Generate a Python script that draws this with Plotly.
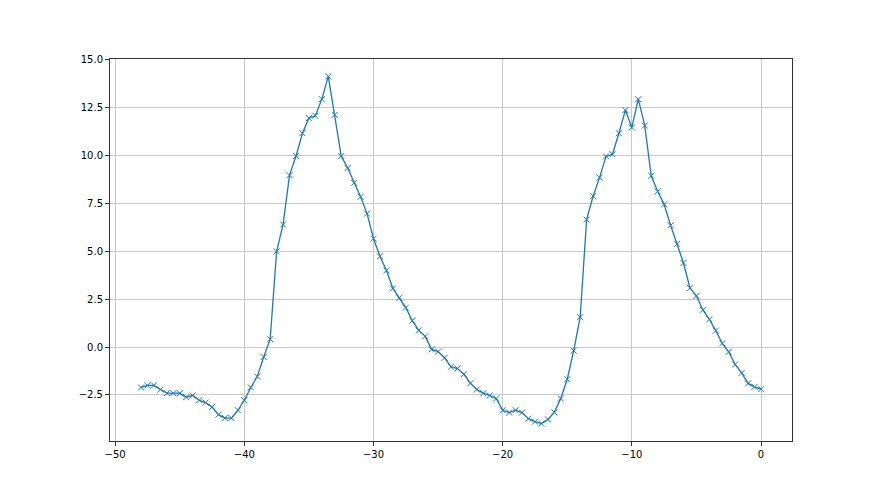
import numpy as np
import plotly.graph_objects as go

x_vals = [-48 + 0.5 * i for i in range(97)]
y_vals = [
    -2.11, -2.0, -2.0, -2.22, -2.41, -2.41, -2.41, -2.62, -2.53, -2.78,
    -2.9, -3.13, -3.53, -3.71, -3.71, -3.3, -2.78, -2.11, -1.54, -0.52,
    0.41,
    5.0, 6.40, 8.98, 9.98, 11.17, 11.96, 12.08, 12.95, 14.14, 12.13,
    9.98, 9.35, 8.58, 7.85, 6.97, 5.66, 4.74, 4.0,
    3.06, 2.57, 2.06, 1.38, 0.87, 0.56, -0.12, -0.24, -0.56, -1.03,
    -1.12, -1.42, -1.89, -2.22, -2.41, -2.53, -2.69, -3.30, -3.42, -3.30,
    -3.42, -3.74, -3.90, -4.0, -3.78, -3.41, -2.69, -1.68, -0.19, 1.56,
    6.66, 7.88, 8.85, 9.96, 10.07, 11.17, 12.38, 11.47, 12.95, 11.57,
    8.95, 8.13, 7.46, 6.36, 5.39, 4.39, 3.09, 2.67, 1.94, 1.45,
    0.86, 0.19, -0.25, -0.91, -1.35, -1.90, -2.08, -2.2,
]
x_ticks = [-50, -40, -30, -20, -10, 0]
y_ticks = [-2.5, 0.0, 2.5, 5.0, 7.5, 10.0, 12.5, 15.0]

fig = go.Figure()
fig.add_trace(go.Scatter(
    x=x_vals, y=y_vals, mode="lines+markers",
    line=dict(color="#1f77b4", width=1.3),
    marker=dict(symbol="x-thin", size=6, color="#1f77b4",
                line=dict(color="#1f77b4", width=1)),
    showlegend=False,
))

axis_common = dict(
    showline=True, linecolor="#333333", linewidth=1, mirror=True,
    ticks="outside", ticklen=4, tickcolor="#333333", tickwidth=1,
    showgrid=True, gridcolor="#c8c8c8", gridwidth=1,
    zeroline=False,
    tickfont=dict(family="DejaVu Sans", size=10, color="black"),
)
xmin, xmax = min(x_vals), max(x_vals)
ymin, ymax = min(y_vals), max(y_vals)
dx = (xmax - xmin) * 0.05
dy = (ymax - ymin) * 0.05
fig.update_xaxes(range=[xmin - dx, xmax + dx], tickvals=x_ticks, **axis_common)
fig.update_yaxes(range=[ymin - dy, ymax + dy], tickvals=y_ticks,
                 tickformat=".1f", **axis_common)
fig.update_layout(
    width=880, height=495,
    margin=dict(l=102, r=96, t=51, b=62),
    paper_bgcolor="white", plot_bgcolor="white",
)
fig.write_html("out.html")
